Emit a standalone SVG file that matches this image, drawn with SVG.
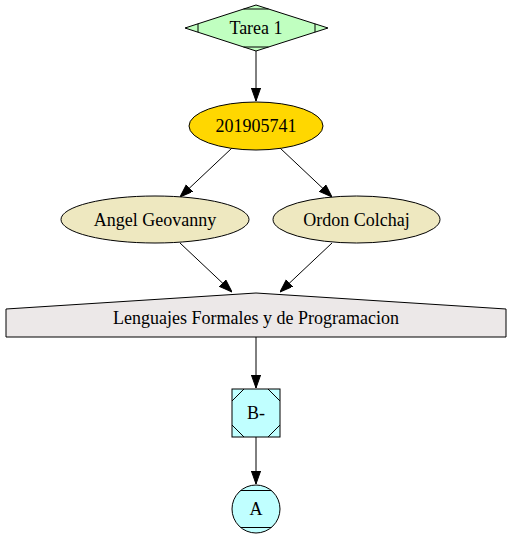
<svg xmlns="http://www.w3.org/2000/svg" width="512" height="539" viewBox="0 0 512 539">
<style>
.s{stroke:#000;stroke-width:1}
.t{font-family:"Liberation Serif","Times New Roman",serif;font-size:18px;text-anchor:middle;fill:#000}
.e{stroke:#000;stroke-width:1;fill:none}
</style>
<defs>
<marker id="ah" markerWidth="13" markerHeight="10" refX="13" refY="4.6" orient="auto" markerUnits="userSpaceOnUse">
<polygon points="0,0 13,4.6 0,9.2" fill="#000" stroke="#000"/>
</marker>
</defs>
<rect width="512" height="539" fill="#fff"/>
<g id="edges">
<line class="e" x1="256" y1="51" x2="256" y2="101" marker-end="url(#ah)"/>
<line class="e" x1="232" y1="148" x2="180" y2="197" marker-end="url(#ah)"/>
<line class="e" x1="280" y1="148" x2="332" y2="197" marker-end="url(#ah)"/>
<line class="e" x1="180" y1="243" x2="232" y2="292" marker-end="url(#ah)"/>
<line class="e" x1="332" y1="243" x2="280" y2="292" marker-end="url(#ah)"/>
<line class="e" x1="256" y1="337" x2="256" y2="388" marker-end="url(#ah)"/>
<line class="e" x1="256" y1="437" x2="256" y2="484" marker-end="url(#ah)"/>
</g>
<g id="tarea1">
<polygon class="s" points="256,5 328,28 256,51 185,28" fill="#c0ffc0"/>
<line class="s" x1="198" y1="23.8" x2="198" y2="32.2"/>
<line class="s" x1="315" y1="23.8" x2="315" y2="32.2"/>
<line class="s" x1="243.5" y1="9" x2="268.5" y2="9"/>
<line class="s" x1="243.5" y1="47" x2="268.5" y2="47"/>
<text class="t" x="256" y="34">Tarea 1</text>
</g>
<g id="n201905741">
<ellipse class="s" cx="256" cy="126" rx="67" ry="24" fill="#ffd700"/>
<text class="t" x="256" y="132">201905741</text>
</g>
<g id="angel">
<ellipse class="s" cx="155" cy="219.5" rx="94" ry="23.5" fill="#eee8c0"/>
<text class="t" x="155" y="225.5">Angel Geovanny</text>
</g>
<g id="ordon">
<ellipse class="s" cx="356.5" cy="219.5" rx="83.5" ry="23.5" fill="#eee8c0"/>
<text class="t" x="356.5" y="225.5">Ordon Colchaj</text>
</g>
<g id="lenguajes">
<polygon class="s" points="506,337 6,337 6,309 256,293 506,309" fill="#ece8e8"/>
<text class="t" x="256" y="324">Lenguajes Formales y de Programacion</text>
</g>
<g id="bminus">
<rect class="s" x="232" y="389" width="48" height="48" fill="#c0ffff"/>
<line class="s" x1="232" y1="401" x2="244" y2="389"/>
<line class="s" x1="268" y1="389" x2="280" y2="401"/>
<line class="s" x1="232" y1="425" x2="244" y2="437"/>
<line class="s" x1="268" y1="437" x2="280" y2="425"/>
<text class="t" x="256" y="419">B-</text>
</g>
<g id="a">
<circle class="s" cx="256" cy="509" r="24" fill="#c0ffff"/>
<line class="s" x1="240.5" y1="490.5" x2="271.5" y2="490.5"/>
<line class="s" x1="240.5" y1="527.5" x2="271.5" y2="527.5"/>
<text class="t" x="256" y="515">A</text>
</g>
</svg>
